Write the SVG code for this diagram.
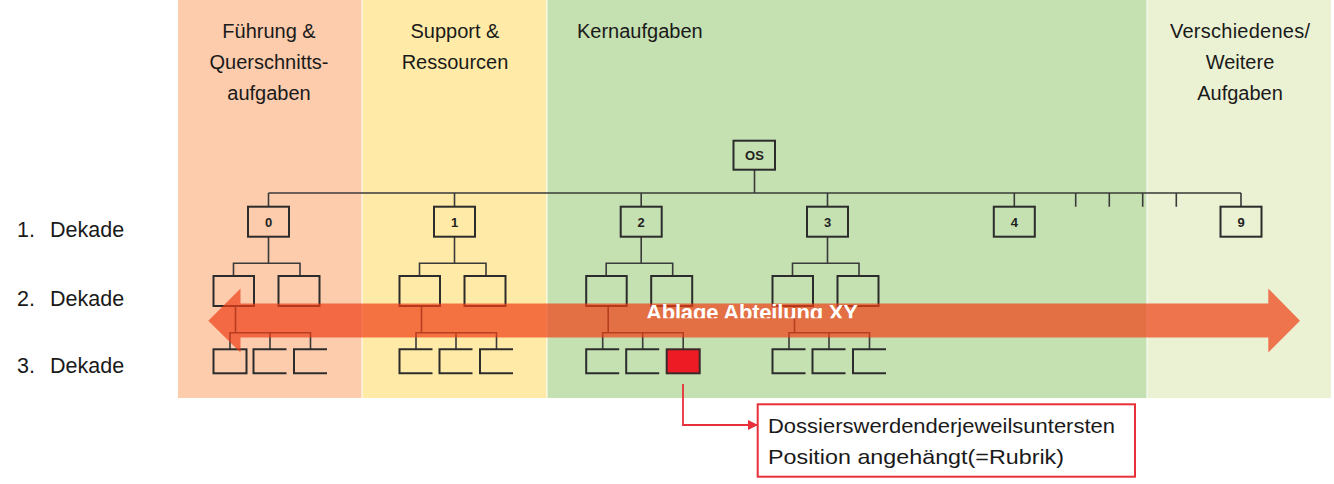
<svg xmlns="http://www.w3.org/2000/svg" width="1334" height="484" viewBox="0 0 1334 484">
<style>
.hd{font-family:"Liberation Sans",Arial,sans-serif;font-size:20px;fill:#1a1a1a}
.lv{font-family:"Liberation Sans",Arial,sans-serif;font-size:21.5px;fill:#1a1a1a}
.bx{fill:none;stroke:#2c2c2c;stroke-width:2}
.ln{fill:none;stroke:#3a3a3a;stroke-width:1.6}
.nl{font-family:"Liberation Sans",Arial,sans-serif;font-size:13px;font-weight:bold;fill:#222;text-anchor:middle}
.note{font-family:"Liberation Sans",Arial,sans-serif;font-size:21px;fill:#1a1a1a}
</style>
<defs>
<clipPath id="txtclip"><rect x="600" y="290" width="320" height="28.3"/></clipPath>
<marker id="rh" viewBox="0 0 10 10" refX="9" refY="5" markerWidth="10" markerHeight="10" markerUnits="userSpaceOnUse" orient="auto"><path d="M0,0 L10,5 L0,10 Z" fill="#E8303A"/></marker>
</defs>
<rect width="1334" height="484" fill="#ffffff"/>
<g id="columns">
<rect x="178" y="0" width="183.5" height="398" fill="#FCCCAD"/>
<rect x="362.5" y="0" width="184" height="398" fill="#FFEBA7"/>
<rect x="547.5" y="0" width="599" height="398" fill="#C5E0B1"/>
<rect x="1147.5" y="0" width="183.5" height="398" fill="#EBF1D3"/>
</g>
<g id="headers">
<text class="hd" x="269" y="38" text-anchor="middle">Führung &amp;</text>
<text class="hd" x="269" y="69" text-anchor="middle">Querschnitts-</text>
<text class="hd" x="269" y="100" text-anchor="middle">aufgaben</text>
<text class="hd" x="455" y="38" text-anchor="middle">Support &amp;</text>
<text class="hd" x="455" y="69" text-anchor="middle">Ressourcen</text>
<text class="hd" x="577" y="38">Kernaufgaben</text>
<text class="hd" x="1240" y="38" text-anchor="middle" textLength="140">Verschiedenes/</text>
<text class="hd" x="1240" y="69" text-anchor="middle">Weitere</text>
<text class="hd" x="1240" y="100" text-anchor="middle">Aufgaben</text>
</g>
<g id="levels">
<text class="lv" y="237"><tspan x="17">1.</tspan><tspan x="50">Dekade</tspan></text>
<text class="lv" y="306"><tspan x="17">2.</tspan><tspan x="50">Dekade</tspan></text>
<text class="lv" y="373"><tspan x="17">3.</tspan><tspan x="50">Dekade</tspan></text>
</g>
<g id="connectors">
<path class="ln" d="M754.5,170 V193 M268.5,193 H1241 M1075.7,193 V206.7 M1109.3,193 V206.7 M1142.7,193 V206.7 M1176.3,193 V206.7"/>
<path class="ln" d="M268.5,193 V206.7 M454.5,193 V206.7 M641.2,193 V206.7 M827.5,193 V206.7 M1014.3,193 V206.7 M1241,193 V206.7"/>
<g transform="translate(268.5,0)"><path class="ln" d="M0,236.7 V263.3 M-35,276 V263.3 H31.5 V276 M-33,306 V332.7 M-38.5,349.3 V332.7 H42 V349.3 M1.5,332.7 V349.3"/></g>
<g transform="translate(454.5,0)"><path class="ln" d="M0,236.7 V263.3 M-35,276 V263.3 H31.5 V276 M-33,306 V332.7 M-38.5,349.3 V332.7 H42 V349.3 M1.5,332.7 V349.3"/></g>
<g transform="translate(641.2,0)"><path class="ln" d="M0,236.7 V263.3 M-35,276 V263.3 H31.5 V276 M-33,306 V332.7 M-38.5,349.3 V332.7 H42 V349.3 M1.5,332.7 V349.3"/></g>
<g transform="translate(827.5,0)"><path class="ln" d="M0,236.7 V263.3 M-35,276 V263.3 H31.5 V276 M-33,306 V332.7 M-38.5,349.3 V332.7 H42 V349.3 M1.5,332.7 V349.3"/></g>
<path d="M683,384 V425 H757" fill="none" stroke="#E8303A" stroke-width="1.8" marker-end="url(#rh)"/>
</g>
<g id="node-os"><rect class="bx" x="733.5" y="140.7" width="41.5" height="29"/><text class="nl" x="754.5" y="160">OS</text></g>
<g id="node-0"><rect class="bx" x="248" y="206.7" width="41" height="30"/><text class="nl" x="268.5" y="226.5">0</text></g>
<g id="node-1"><rect class="bx" x="434" y="206.7" width="41" height="30"/><text class="nl" x="454.5" y="226.5">1</text></g>
<g id="node-2"><rect class="bx" x="620.7" y="206.7" width="41" height="30"/><text class="nl" x="641.2" y="226.5">2</text></g>
<g id="node-3"><rect class="bx" x="807" y="206.7" width="41" height="30"/><text class="nl" x="827.5" y="226.5">3</text></g>
<g id="node-4"><rect class="bx" x="993.8" y="206.7" width="41" height="30"/><text class="nl" x="1014.3" y="226.5">4</text></g>
<g id="node-9"><rect class="bx" x="1220.5" y="206.7" width="41" height="30"/><text class="nl" x="1241" y="226.5">9</text></g>
<g id="sub-0" transform="translate(268.5,0)">
<rect class="bx" x="-55" y="276" width="40.5" height="30"/><rect class="bx" x="10" y="276" width="41" height="30"/>
<rect class="bx" x="-55" y="349.3" width="33" height="24"/>
<path class="bx" d="M18,349.3 H-15 V373.3 H18 M58.5,349.3 H25.5 V373.3 H58.5"/>
</g>
<g id="sub-1" transform="translate(454.5,0)">
<rect class="bx" x="-55" y="276" width="40.5" height="30"/><rect class="bx" x="10" y="276" width="41" height="30"/>
<path class="bx" d="M-22,349.3 H-55 V373.3 H-22 M18,349.3 H-15 V373.3 H18 M58.5,349.3 H25.5 V373.3 H58.5"/>
</g>
<g id="sub-2" transform="translate(641.2,0)">
<rect class="bx" x="-55" y="276" width="40.5" height="30"/><rect class="bx" x="10" y="276" width="41" height="30"/>
<path class="bx" d="M-22,349.3 H-55 V373.3 H-22 M18,349.3 H-15 V373.3 H18"/>
<rect x="25.5" y="349.3" width="33" height="24" fill="#ED1C24" stroke="#3a2a2a" stroke-width="2"/>
</g>
<g id="sub-3" transform="translate(827.5,0)">
<rect class="bx" x="-55" y="276" width="40.5" height="30"/><rect class="bx" x="10" y="276" width="41" height="30"/>
<path class="bx" d="M-22,349.3 H-55 V373.3 H-22 M18,349.3 H-15 V373.3 H18 M58.5,349.3 H25.5 V373.3 H58.5"/>
</g>
<g id="arrow-ablage">
<polygon points="208.3,320.7 240.5,288.5 240.5,303.4 1268.3,303.4 1268.3,288.5 1300,320.7 1268.3,352.5 1268.3,337.6 240.5,337.6 240.5,352.5" fill="rgb(240,62,22)" fill-opacity="0.7"/>
<text x="752" y="320" clip-path="url(#txtclip)" font-family="'Liberation Sans',Arial,sans-serif" font-size="22" font-weight="bold" fill="#ffffff" text-anchor="middle" textLength="212">Ablage Abteilung XY</text>
</g>
<g id="note">
<rect x="757.7" y="404.3" width="377.3" height="72.4" fill="#ffffff" stroke="#E8303A" stroke-width="2"/>
<text class="note" x="768" y="433" textLength="347" lengthAdjust="spacingAndGlyphs">Dossierswerdenderjeweilsuntersten</text>
<text class="note" x="768" y="464" textLength="296" lengthAdjust="spacingAndGlyphs">Position angehängt(=Rubrik)</text>
</g>
</svg>
